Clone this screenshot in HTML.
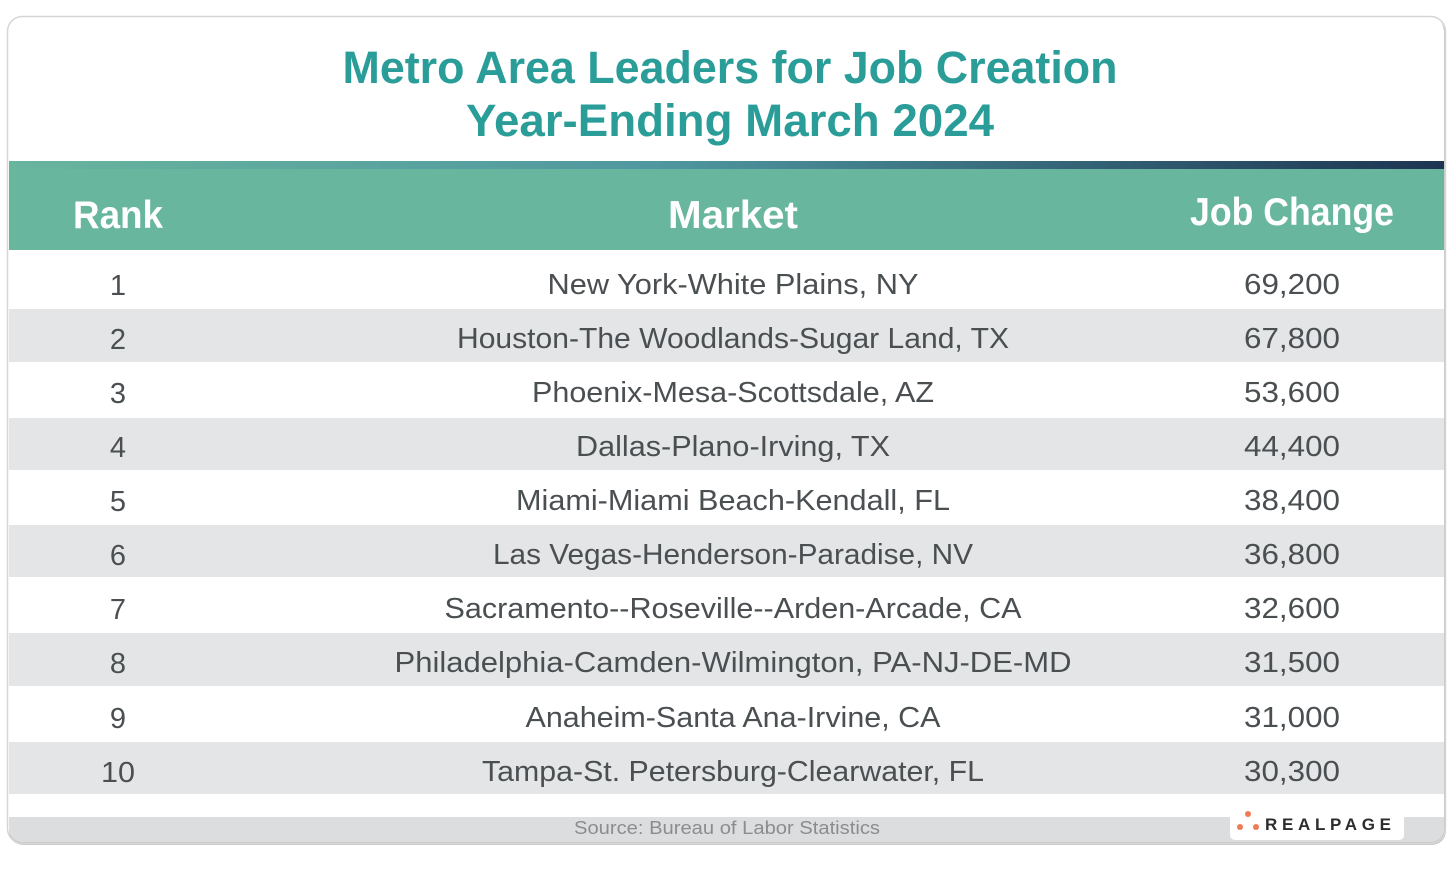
<!DOCTYPE html>
<html><head><meta charset="utf-8"><style>
html,body{margin:0;padding:0;background:#fff;width:1455px;height:875px;overflow:hidden}
svg{display:block}
text{font-family:"Liberation Sans",sans-serif}
</style></head><body>
<svg width="1455" height="875" viewBox="0 0 1455 875" xmlns="http://www.w3.org/2000/svg">
<defs>
<linearGradient id="g" x1="0" x2="1" y1="0" y2="0">
<stop offset="0" stop-color="#68b69e"/><stop offset="0.45" stop-color="#4f98a0"/><stop offset="1" stop-color="#1c3351"/>
</linearGradient>
<clipPath id="c"><rect x="9" y="18" width="1435" height="824" rx="14"/></clipPath>
</defs>
<rect x="9" y="20" width="1437" height="825" rx="14" fill="#c9c9c9"/>
<rect x="7.5" y="16.5" width="1438" height="827" rx="15" fill="none" stroke="#d6d6d6" stroke-width="1.5"/>
<g clip-path="url(#c)">
<rect x="0" y="0" width="1455" height="875" fill="#fff"/>
<rect x="0" y="161" width="1455" height="8" fill="url(#g)"/>
<rect x="0" y="169" width="1455" height="81" fill="#68b69e"/>
<g fill="#e4e5e7">
<rect x="0" y="309" width="1455" height="53"/>
<rect x="0" y="418" width="1455" height="52"/>
<rect x="0" y="525" width="1455" height="52"/>
<rect x="0" y="633" width="1455" height="53"/>
<rect x="0" y="742" width="1455" height="52"/>
<rect x="0" y="817" width="1455" height="30" fill="#dcdddf"/>
</g>
</g>
<g fill="#2a9d99" font-weight="bold" font-size="45" text-anchor="middle">
<text x="730" y="83" textLength="775" lengthAdjust="spacingAndGlyphs">Metro Area Leaders for Job Creation</text>
<text x="730" y="136" textLength="528" lengthAdjust="spacingAndGlyphs">Year-Ending March 2024</text>
</g>
<g fill="#fff" font-weight="bold" font-size="39" text-anchor="middle">
<text x="118" y="228" textLength="90" lengthAdjust="spacingAndGlyphs">Rank</text>
<text x="733" y="228" textLength="130" lengthAdjust="spacingAndGlyphs">Market</text>
<text x="1292" y="225" textLength="204" lengthAdjust="spacingAndGlyphs">Job Change</text>
</g>
<g fill="#4a4f52" font-size="29" text-anchor="middle">
<text x="118" y="295">1</text><text x="733" y="294" textLength="371" lengthAdjust="spacingAndGlyphs">New York-White Plains, NY</text><text x="1292" y="294" textLength="96" lengthAdjust="spacingAndGlyphs">69,200</text>
<text x="118" y="349">2</text><text x="733" y="348" textLength="552" lengthAdjust="spacingAndGlyphs">Houston-The Woodlands-Sugar Land, TX</text><text x="1292" y="348" textLength="96" lengthAdjust="spacingAndGlyphs">67,800</text>
<text x="118" y="403">3</text><text x="733" y="402" textLength="402" lengthAdjust="spacingAndGlyphs">Phoenix-Mesa-Scottsdale, AZ</text><text x="1292" y="402" textLength="96" lengthAdjust="spacingAndGlyphs">53,600</text>
<text x="118" y="457">4</text><text x="733" y="456" textLength="314" lengthAdjust="spacingAndGlyphs">Dallas-Plano-Irving, TX</text><text x="1292" y="456" textLength="96" lengthAdjust="spacingAndGlyphs">44,400</text>
<text x="118" y="511">5</text><text x="733" y="510" textLength="434" lengthAdjust="spacingAndGlyphs">Miami-Miami Beach-Kendall, FL</text><text x="1292" y="510" textLength="96" lengthAdjust="spacingAndGlyphs">38,400</text>
<text x="118" y="565">6</text><text x="733" y="564" textLength="480" lengthAdjust="spacingAndGlyphs">Las Vegas-Henderson-Paradise, NV</text><text x="1292" y="564" textLength="96" lengthAdjust="spacingAndGlyphs">36,800</text>
<text x="118" y="619">7</text><text x="733" y="618" textLength="577" lengthAdjust="spacingAndGlyphs">Sacramento--Roseville--Arden-Arcade, CA</text><text x="1292" y="618" textLength="96" lengthAdjust="spacingAndGlyphs">32,600</text>
<text x="118" y="673">8</text><text x="733" y="672" textLength="677" lengthAdjust="spacingAndGlyphs">Philadelphia-Camden-Wilmington, PA-NJ-DE-MD</text><text x="1292" y="672" textLength="96" lengthAdjust="spacingAndGlyphs">31,500</text>
<text x="118" y="728">9</text><text x="733" y="727" textLength="415" lengthAdjust="spacingAndGlyphs">Anaheim-Santa Ana-Irvine, CA</text><text x="1292" y="727" textLength="96" lengthAdjust="spacingAndGlyphs">31,000</text>
<text x="118" y="782" textLength="34" lengthAdjust="spacingAndGlyphs">10</text><text x="733" y="781" textLength="502" lengthAdjust="spacingAndGlyphs">Tampa-St. Petersburg-Clearwater, FL</text><text x="1292" y="781" textLength="96" lengthAdjust="spacingAndGlyphs">30,300</text>
</g>
<text x="727" y="834" fill="#8a8d90" font-size="18" text-anchor="middle" textLength="306" lengthAdjust="spacingAndGlyphs">Source: Bureau of Labor Statistics</text>
<rect x="1230" y="808" width="174" height="32" rx="5" fill="#fff"/>
<circle cx="1248" cy="814" r="3" fill="#ef7a55"/>
<circle cx="1240" cy="827" r="3" fill="#ef7a55"/>
<circle cx="1256" cy="827" r="3" fill="#ef7a55"/>
<text x="1265" y="830" fill="#2a2c2e" font-size="17" font-weight="bold" textLength="126" lengthAdjust="spacing">REALPAGE</text>
</svg>
</body></html>
